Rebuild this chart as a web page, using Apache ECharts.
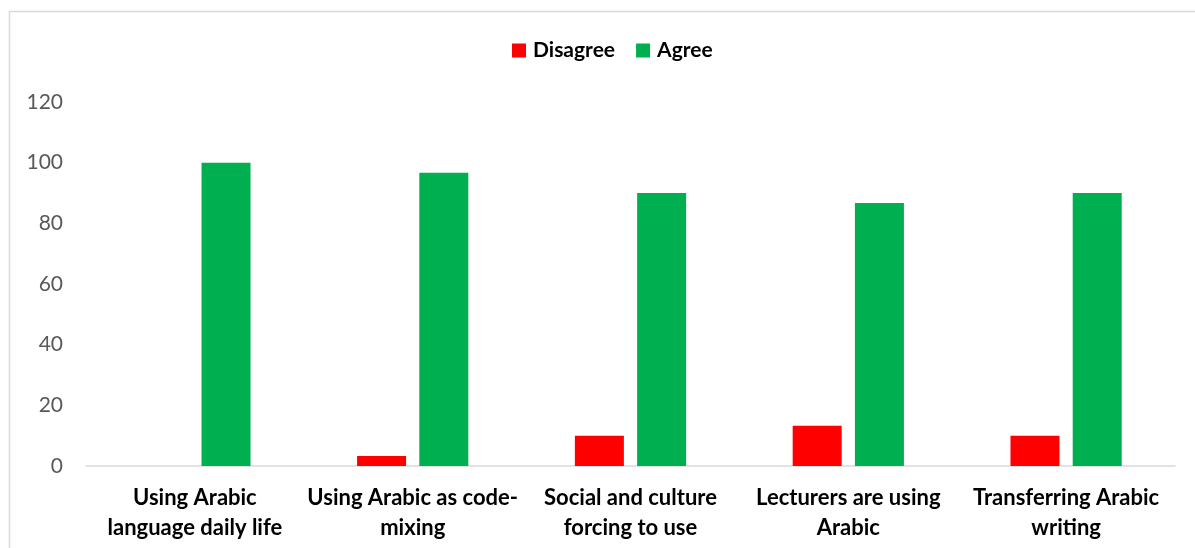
<!DOCTYPE html>
<html>
<head>
<meta charset="utf-8">
<script src="https://cdn.jsdelivr.net/npm/echarts@6/dist/echarts.min.js"></script>
<style>
  html, body { margin: 0; padding: 0; background: #fff; }
  #chart { width: 1195px; height: 548px; }
</style>
</head>
<body>
<div id="chart"></div>
<script>
const categories = [
  'Using Arabic\nlanguage daily life',
  'Using Arabic as code-\nmixing',
  'Social and culture\nforcing to use',
  'Lecturers are using\nArabic',
  'Transferring Arabic\nwriting'
];
const disagree = [0, 3.3, 10, 13.3, 10];
const agree = [100, 96.7, 90, 86.7, 90];

const chart = echarts.init(document.getElementById('chart'));

const option = {
  animation: false,
  textStyle: { fontFamily: 'Lato, "Open Sans", sans-serif' },
  graphic: [{
    type: 'rect',
    shape: { x: 9.5, y: 11.5, width: 1200, height: 600 },
    style: { fill: 'none', stroke: '#d9d9d9', lineWidth: 1.5 },
    silent: true
  }],
  legend: {
    top: 35,
    left: 507,
    itemWidth: 14,
    itemHeight: 14,
    itemGap: 21,
    icon: 'rect',
    textStyle: { fontSize: 21, fontWeight: 'bold', color: '#000', padding: [0, 0, 0, 2] },
    data: ['Disagree', 'Agree']
  },
  grid: { left: 86, right: 20, top: 102, bottom: 82 },
  xAxis: {
    type: 'category',
    data: categories,
    axisLine: { lineStyle: { color: '#d9d9d9', width: 1.5 } },
    axisTick: { show: false },
    axisLabel: {
      interval: 0,
      margin: 17,
      fontSize: 22,
      fontWeight: 'bold',
      color: '#000',
      lineHeight: 30
    }
  },
  yAxis: {
    type: 'value',
    min: 0,
    max: 120,
    interval: 20,
    axisLine: { show: false },
    axisTick: { show: false },
    splitLine: { show: false },
    axisLabel: { fontSize: 21, color: '#595959', margin: 23 }
  },
  series: [
    {
      name: 'Disagree',
      type: 'bar',
      data: disagree,
      barWidth: '22.5%',
      barGap: '27%',
      itemStyle: { color: '#ff0000' }
    },
    {
      name: 'Agree',
      type: 'bar',
      data: agree,
      barWidth: '22.5%',
      itemStyle: { color: '#00b050' }
    }
  ]
};

chart.setOption(option);
</script>
</body>
</html>
